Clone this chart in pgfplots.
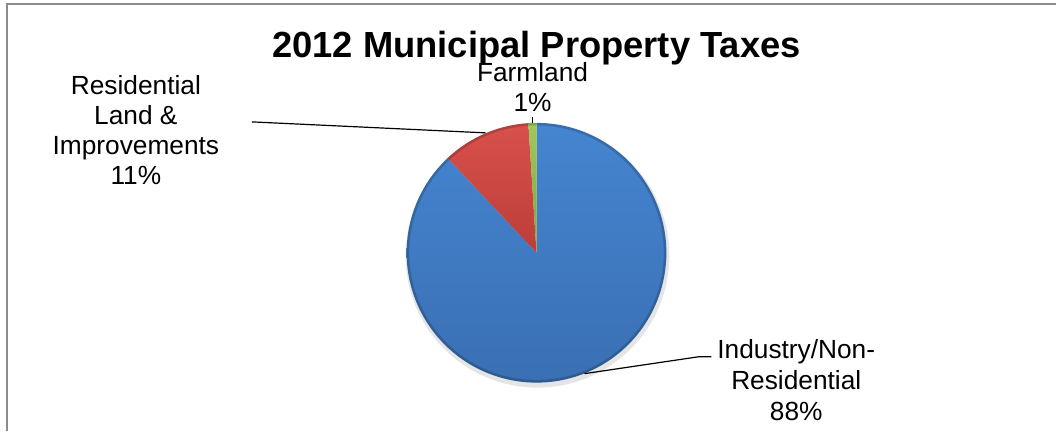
\documentclass[border=0pt]{standalone}
\usepackage{pgfplots}
\pgfplotsset{compat=1.18}
\usepackage{pgfplotstable}
\usepackage{fontspec}
\setmainfont{Liberation Sans}
\definecolor{blueT}{HTML}{4585D1}
\definecolor{blueB}{HTML}{3A6FB3}
\definecolor{redT}{HTML}{D8514C}
\definecolor{redB}{HTML}{BC3D39}
\definecolor{greenT}{HTML}{A2C75A}
\definecolor{greenB}{HTML}{7FA53A}
\definecolor{framegray}{HTML}{8C8C8C}

\pgfplotstableread{
label pct
Industry 88
Residential 11
Farmland 1
}\piedata

\newcommand\lbl[3]{\node[anchor=base, inner sep=0pt, font=\fontsize{26.4}{30}\selectfont] at (axis cs:#1,#2) {#3};}

\begin{document}
\begin{tikzpicture}
\pgfplotstablegetelem{0}{pct}\of\piedata \edef\pA{\pgfplotsretval}
\pgfplotstablegetelem{1}{pct}\of\piedata \edef\pB{\pgfplotsretval}
\pgfplotstablegetelem{2}{pct}\of\piedata \edef\pC{\pgfplotsretval}
\pgfmathsetmacro\aZero{90}
\pgfmathsetmacro\aOne{90-3.6*\pA}
\pgfmathsetmacro\aTwo{\aOne-3.6*\pB}
\pgfmathsetmacro\aThree{\aTwo-3.6*\pC}
\def\cx{537}
\def\cy{178}
\def\r{130}
\begin{axis}[hide axis, scale only axis, width=1057bp, height=431bp,
  xmin=0, xmax=1057, ymin=0, ymax=431, clip=false]
\path (axis cs:0,0) rectangle (axis cs:1057,431);
% frame
\draw[framegray, line width=2bp] (axis cs:7,0) -- (axis cs:7,427) -- (axis cs:1057,427);
% soft shadow
\addplot[draw=none, fill=black, fill opacity=0.10, domain=0:360, samples=150, variable=\t]
  ({\cx+1+(\r+2)*cos(\t)},{\cy-3+(\r+2)*sin(\t)}) -- cycle;
% slices
\addplot[draw=none, top color=blueT, bottom color=blueB, domain=\aOne:\aZero, samples=200, variable=\t]
  ({\cx+\r*cos(\t)},{\cy+\r*sin(\t)}) -- (axis cs:\cx,\cy) -- cycle;
\addplot[draw=none, top color=redT, bottom color=redB, domain=\aTwo:\aOne, samples=40, variable=\t]
  ({\cx+\r*cos(\t)},{\cy+\r*sin(\t)}) -- (axis cs:\cx,\cy) -- cycle;
\addplot[draw=none, top color=greenT, bottom color=greenB, domain=\aThree:\aTwo, samples=10, variable=\t]
  ({\cx+\r*cos(\t)},{\cy+\r*sin(\t)}) -- (axis cs:\cx,\cy) -- cycle;
% rim
\addplot[draw=black, draw opacity=0.18, line width=2.5bp, domain=0:360, samples=200, variable=\t]
  ({\cx+(\r-1.3)*cos(\t)},{\cy+(\r-1.3)*sin(\t)});
% leader lines
\draw[black, line width=1.2bp] (axis cs:252,309) -- (axis cs:486,298);
\draw[black, line width=1.2bp] (axis cs:533,314) -- (axis cs:533,308);
\draw[black, line width=1.2bp] (axis cs:585,57) -- (axis cs:700,74) -- (axis cs:712,74);
% title
\node[anchor=base, inner sep=0pt, font=\fontsize{36.5}{40}\selectfont\bfseries] at (axis cs:537,373) {2012 Municipal Property Taxes};
% labels
\lbl{136}{336}{Residential}
\lbl{136}{306}{Land \&}
\lbl{136}{276}{Improvements}
\lbl{136}{246}{11\%}
\lbl{533}{349}{Farmland}
\lbl{533}{319}{1\%}
\lbl{797}{72}{Industry/Non-}
\lbl{797}{41}{Residential}
\lbl{797}{10}{88\%}
\end{axis}
\end{tikzpicture}
\end{document}
